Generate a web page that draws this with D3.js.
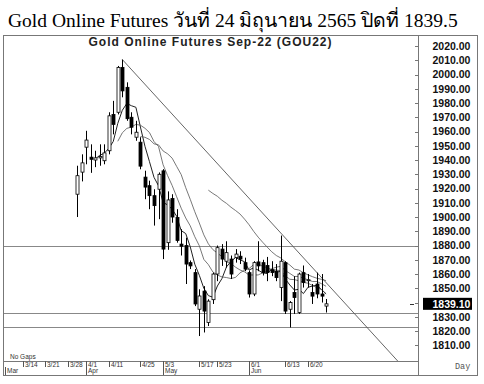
<!DOCTYPE html>
<html><head><meta charset="utf-8">
<script src="https://cdn.jsdelivr.net/npm/d3@7"></script>
<style>body{margin:0;background:#fff}svg{display:block}</style>
</head><body>
<svg id="c" width="484" height="384"></svg>
<script>
// ---- data ----
const axisDays = ["3/8","3/9","3/10","3/11","3/14","3/15","3/16","3/17","3/18","3/21","3/22","3/23","3/24","3/25","3/28","3/29",
  "3/30","3/31","4/1","4/4","4/5","4/7","4/8","4/11","4/12","4/18","4/19","4/20","4/21","4/22","4/25","4/26","4/27","4/28","4/29",
  "5/3","5/5","5/6","5/9","5/10","5/11","5/12","5/13","5/17","5/18","5/19","5/20","5/23","5/24","5/25","5/26","5/27","5/30","5/31",
  "6/1","6/2","6/3","6/6","6/7","6/8","6/9","6/10","6/13","6/14","6/15","6/16","6/17","6/20","6/21","6/22","6/23","6/24"];
const candleStart = "3/30";
const open  = [1916,1931.5,1949,1942,1940,1941.5,1939.5,1946.5,1972,1973.5,2005,1991,1970,1956,1952.5,1928,1922,1915,1919.5,1932.4,
  1882,1913,1899.7,1881,1880,1868,1861,1835.3,1848,1826,1842,1860,1877.5,1869,1870.5,1871.5,1872.5,1868,1861,1846,
  1868.5,1868,1866,1863,1862,1850.5,1868,1835.3,1847,1833,1861,1855.5,1847,1853,1846,1837.5];
const high  = [1936,1944,1960.5,1951,1946.5,1951,1951,1973.5,1981.5,2006,2010.5,1994.5,1973.5,1967.5,1956,1932.5,1925.5,1919.5,1931.3,1933.6,
  1918,1916,1905.5,1891.5,1885.5,1869.5,1863.5,1849.3,1851.5,1842.3,1861,1880,1881,1883,1873,1877.5,1876,1871.5,1862.5,1869,
  1883,1870,1872,1869,1867,1887,1869,1841,1858.5,1861,1866,1860,1853,1861,1860,1842.5];
const low   = [1900,1925,1937,1931,1935,1936,1937,1944,1958,1972,1984,1967.5,1958,1953.5,1933.5,1912.5,1905.5,1894,1898.5,1870.5,
  1877,1896,1882,1873,1853,1863.5,1837.5,1816.5,1819,1823.5,1839,1855,1865.7,1864.5,1856.5,1868,1867,1862,1843.5,1844.5,
  1862,1859,1855,1858.5,1855,1841,1832,1822.5,1832,1832,1850.5,1850.5,1839,1843,1840,1833];
const close = [1929,1938,1954,1940.5,1941.5,1942.5,1945,1971,1965,2005,1988.5,1969,1963,1959.5,1935.7,1921,1915,1908,1930,1877.5,
  1912,1900,1883.5,1879.5,1867,1865.7,1839,1844.6,1834,1841,1860,1878.5,1870.5,1875,1860,1874,1870.5,1863.5,1846,1868,
  1865.7,1861,1861,1861,1857.5,1869,1834,1840,1843.5,1860,1854,1856,1844.5,1846,1844.5,1839.1];
const maPeriods = [5, 10, 15, 30];
const levels = [1880, 1833, 1823];
const trendDays = ["4/19", "6/24"];
const trendPrices = [2010.5, 1854];
const yTicks = [2020,2010,2000,1990,1980,1970,1960,1950,1940,1930,1920,1910,1900,1890,1880,1870,1860,1850,1840,1830,1820,1810];
const lastPrice = 1839.10;
const dateTicks = ["3/14","3/21","3/28","4/1","4/11","4/25","5/3","5/17","5/23","6/1","6/13","6/20"];
const monthLabels = ["Mar","Apr","May","Jun"];
const monthStarts = ["3/8","4/1","5/3","6/1"];
const mainTitle = "Gold Online Futures วันที่ 24 มิถุนายน 2565 ปิดที่ 1839.5";
const chartTitle = "Gold Online Futures Sep-22 (GOU22)";

// ---- layout ----
const L = 3, R = 418, T = 35, B = 361;
const svg = d3.select("#c");
const x = d3.scaleLinear().domain([-0.35, axisDays.length - 1 + 20.3]).range([L, R]);
const y = d3.scaleLinear().domain([1810, 2020]).range([345.3, 46]);
const c0 = axisDays.indexOf(candleStart);
const idx = d => axisDays.indexOf(d);
const px = i => Math.round(x(i)) + 0.5;

svg.append("text").attr("x", 8).attr("y", 27)
  .attr("font-family", "'Liberation Serif','Times New Roman',serif").attr("font-size", 19.5)
  .attr("fill", "#000").text(mainTitle);

// frame
svg.append("rect").attr("x", L + 0.5).attr("y", T + 0.5).attr("width", 478 - L - 1).attr("height", 375 - T)
  .attr("fill", "none").attr("stroke", "#777");
svg.append("line").attr("x1", R + 0.5).attr("x2", R + 0.5).attr("y1", T).attr("y2", 375.5).attr("stroke", "#777");
svg.append("line").attr("x1", L).attr("x2", R).attr("y1", B + 0.5).attr("y2", B + 0.5).attr("stroke", "#777");

svg.append("defs").append("clipPath").attr("id", "pc").append("rect")
  .attr("x", L + 1).attr("y", T + 1).attr("width", R - L - 1).attr("height", B - T - 1);
const g = svg.append("g").attr("clip-path", "url(#pc)");

// levels
g.selectAll("line.lv").data(levels).join("line").attr("class", "lv")
  .attr("x1", L).attr("x2", R).attr("y1", d => Math.round(y(d)) + 0.5).attr("y2", d => Math.round(y(d)) + 0.5)
  .attr("stroke", "#888").attr("stroke-width", 1);

// trendline extended
const t0 = idx(trendDays[0]), t1 = idx(trendDays[1]);
const slope = (trendPrices[1] - trendPrices[0]) / (t1 - t0);
const tEnd = x.domain()[1];
g.append("line").attr("x1", x(t0)).attr("y1", y(trendPrices[0]))
  .attr("x2", x(tEnd)).attr("y2", y(trendPrices[0] + slope * (tEnd - t0)))
  .attr("stroke", "#555").attr("stroke-width", 0.9);

// moving averages
maPeriods.forEach((p, k) => {
  const pts = [];
  for (let i = p - 1; i < close.length; i++) {
    pts.push([x(c0 + i), y(d3.mean(close.slice(i - p + 1, i + 1)))]);
  }
  g.append("path").attr("d", d3.line()(pts)).attr("fill", "none")
    .attr("stroke", k === 0 ? "#222" : "#555").attr("stroke-width", k === 0 ? 1 : 0.8);
});

// candles
const candles = close.map((c, i) => ({i: c0 + i, o: open[i], h: high[i], l: low[i], c}));
g.selectAll("line.wk").data(candles).join("line").attr("class", "wk")
  .attr("x1", d => px(d.i)).attr("x2", d => px(d.i))
  .attr("y1", d => y(d.h)).attr("y2", d => y(d.l)).attr("stroke", "#000").attr("stroke-width", 1);
g.selectAll("rect.bd").data(candles).join("rect").attr("class", "bd")
  .attr("x", d => px(d.i) - 1.5).attr("width", 3)
  .attr("y", d => y(Math.max(d.o, d.c))).attr("height", d => Math.max(1, Math.abs(y(d.o) - y(d.c))))
  .attr("fill", d => d.c >= d.o ? "#fff" : "#000").attr("stroke", "#000").attr("stroke-width", 0.8);

// chart title
svg.append("text").attr("x", 210.5).attr("y", 45.5).attr("text-anchor", "middle")
  .attr("font-family", "Arial,'Liberation Sans',sans-serif").attr("font-weight", "bold")
  .attr("font-size", 12).attr("letter-spacing", 1).attr("fill", "#222").text(chartTitle);

// right axis
const ya = svg.append("g");
ya.selectAll("line.tk").data(yTicks).join("line").attr("class", "tk")
  .attr("x1", R - 3).attr("x2", R).attr("y1", d => Math.round(y(d)) + 0.5).attr("y2", d => Math.round(y(d)) + 0.5)
  .attr("stroke", "#777");
ya.selectAll("text").data(yTicks).join("text")
  .attr("x", 432.5).attr("y", d => y(d) + 3.8)
  .attr("font-family", "Arial,'Liberation Sans',sans-serif").attr("font-weight", "bold").attr("font-size", 10.5)
  .attr("fill", "#111").text(d => d.toFixed(2));
ya.append("rect").attr("x", 423).attr("y", y(lastPrice) - 6).attr("width", 49).attr("height", 12).attr("fill", "#000");
ya.append("text").attr("x", 432.5).attr("y", y(lastPrice) + 3.8)
  .attr("font-family", "Arial,'Liberation Sans',sans-serif").attr("font-weight", "bold").attr("font-size", 10.5)
  .attr("fill", "#fff").text(lastPrice.toFixed(2));
ya.append("line").attr("x1", 410).attr("x2", 414).attr("y1", Math.round(y(lastPrice)) + 0.5).attr("y2", Math.round(y(lastPrice)) + 0.5)
  .attr("stroke", "#333");

svg.append("text").attr("x", 455).attr("y", 369).attr("font-family", "'Liberation Mono',monospace")
  .attr("font-size", 8.5).attr("fill", "#555").text("Day");

// date axis
const xa = svg.append("g").attr("font-family", "Arial,'Liberation Sans',sans-serif").attr("fill", "#333");
xa.selectAll("line.dt").data(dateTicks).join("line").attr("class", "dt")
  .attr("x1", d => px(idx(d))).attr("x2", d => px(idx(d))).attr("y1", B).attr("y2", B + 6).attr("stroke", "#555");
xa.selectAll("text.dt").data(dateTicks).join("text").attr("class", "dt")
  .attr("x", d => px(idx(d)) + 1.5).attr("y", B + 5.5).attr("font-size", 6.5).text(d => d);
xa.selectAll("line.mt").data(monthStarts).join("line").attr("class", "mt")
  .attr("x1", d => px(idx(d))).attr("x2", d => px(idx(d))).attr("y1", B + 6).attr("y2", 375).attr("stroke", "#555");
xa.selectAll("text.mt").data(monthLabels).join("text").attr("class", "mt")
  .attr("x", (d, i) => px(idx(monthStarts[i])) + 1.5).attr("y", B + 12).attr("font-size", 6.5).text(d => d);
svg.append("text").attr("x", 10).attr("y", 359).attr("font-family", "Arial,'Liberation Sans',sans-serif")
  .attr("font-size", 6.5).attr("fill", "#333").text("No Gaps");
</script>
</body></html>
